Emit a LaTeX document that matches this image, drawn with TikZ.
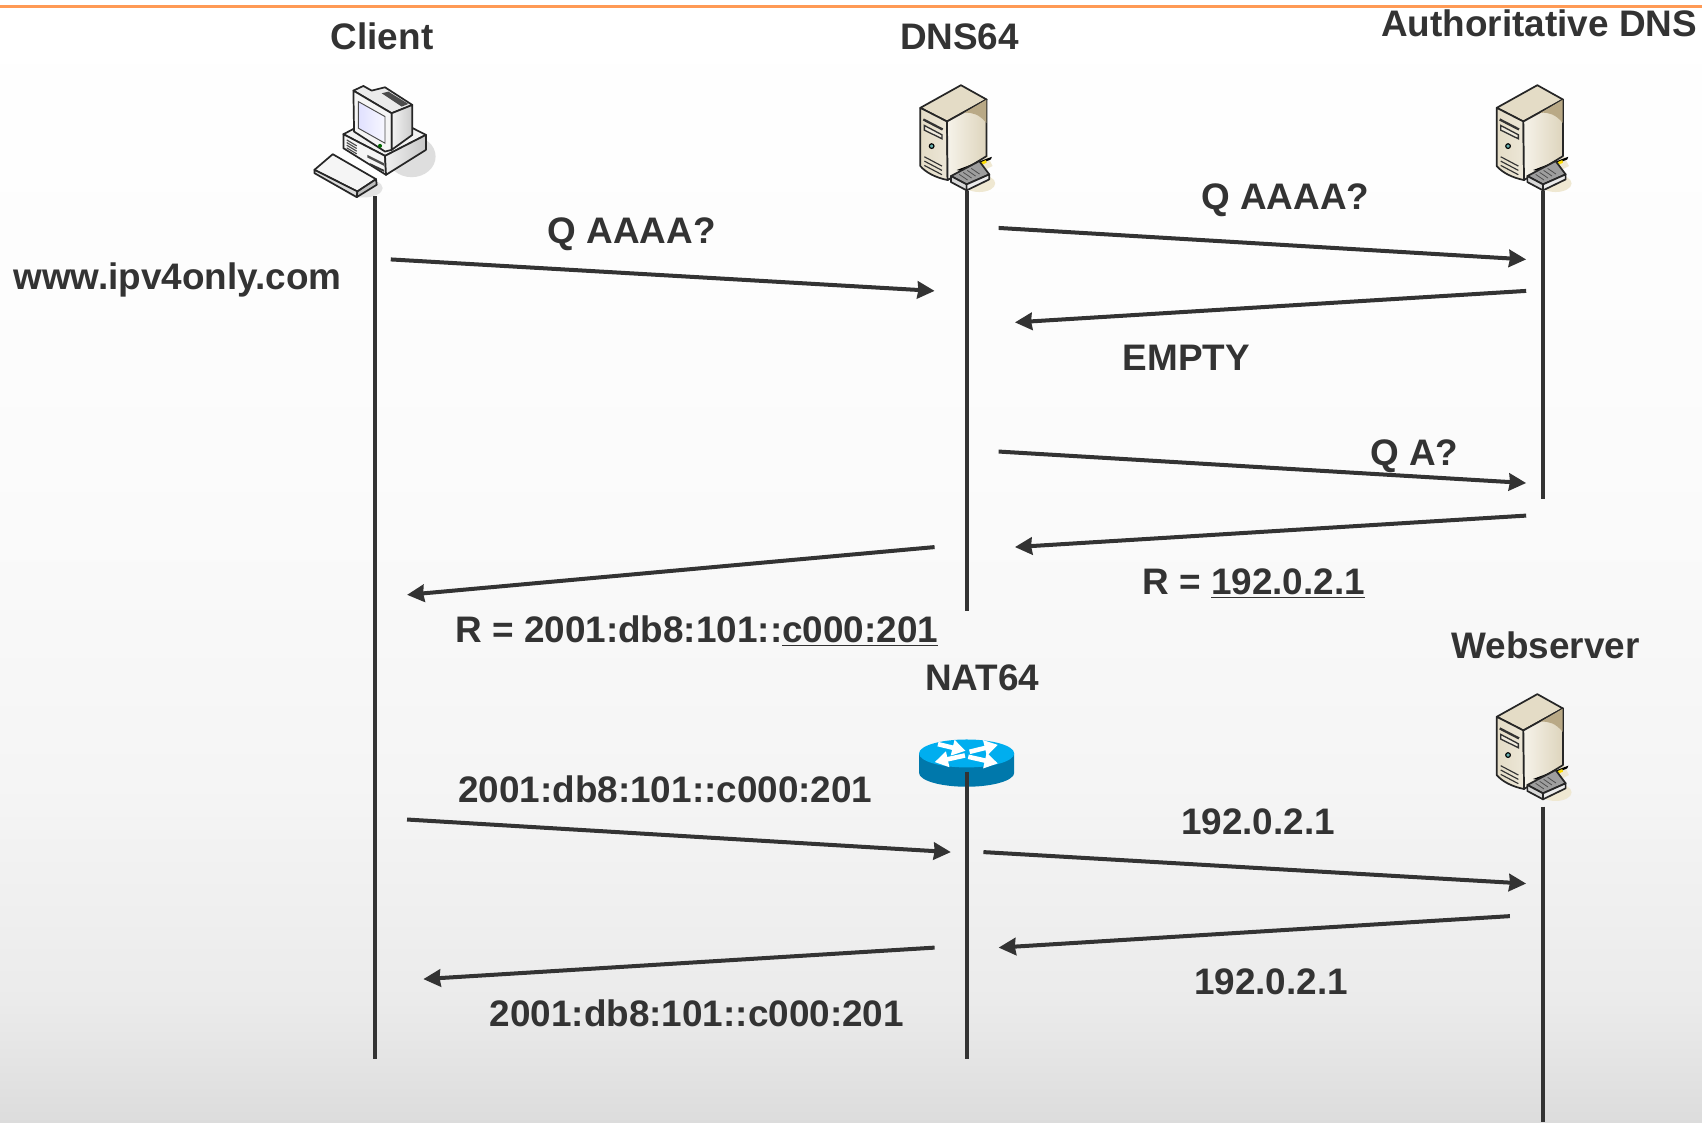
\documentclass[tikz,border=0pt]{standalone}
\usepackage{fontspec}
\setmainfont{Liberation Sans}
\usetikzlibrary{arrows.meta}
\definecolor{inkgrey}{HTML}{333333}
\definecolor{rulecolor}{HTML}{FF9A55}
\definecolor{beigeface}{HTML}{E4DCC6}
\definecolor{beigedark}{HTML}{B9A986}
\definecolor{beigelight}{HTML}{F6F3EA}
\definecolor{beigeshadow}{HTML}{EFE8D2}
\definecolor{routertop}{HTML}{00AEEF}
\definecolor{routerside}{HTML}{0078AB}
\tikzstyle{line} = [draw=inkgrey, line width=2.1pt, -{Stealth[length=9pt,width=9pt,inset=0.5pt]}]
\tikzstyle{lifeline} = [draw=inkgrey, line width=2.1pt]
\tikzstyle{caption} = [text=inkgrey, anchor=base, inner sep=0pt, font=\fontsize{19.35}{23}\selectfont\bfseries]
\tikzstyle{icon} = [draw=black!85, line width=0.9pt, line join=round]
\tikzset{
  server/.pic={
    \begin{scope}[x=0.00614cm,y=-0.00614cm,shift={(-262,-395)}]
      \fill [beigeshadow] (300,372) ellipse (48 and 26);
      \fill [beigeshadow] (318,275) -- (340,320) -- (300,340) -- cycle;
      \path [icon, fill=beigeface] (123,145) -- (245,77) -- (322,120) -- (203,186) -- cycle;
      \path [icon, left color=beigeface, right color=beigeface!70!white] (123,145) -- (203,186) -- (205,362) .. controls (170,355) and (140,340) .. (123,320) -- cycle;
      \path [icon, left color=beigelight, right color=beigeface!85!beigedark] (203,186) -- (322,120) -- (322,290) -- (205,362) -- cycle;
      \fill [beigedark] (321,121) -- (321,190) .. controls (300,165) and (280,158) .. (255,160) -- cycle;
      \draw [line width=1.2pt, black!80] (132,180) -- (190,210);
      \draw [line width=0.7pt, black!80, fill=beigeface!60!white] (135,198) -- (188,226) -- (188,238) -- (135,212) -- cycle;
      \draw [line width=0.6pt, fill=teal!60] (157,260) circle (7);
      \foreach \rowgap in {0,13,26}
        \draw [line width=0.6pt, black!80] (135,292+\rowgap) -- (188,320+\rowgap);
      \fill [black] (232,332) -- (338,292) -- (335,300) -- (250,335) -- cycle;
      \fill [yellow!80!orange] (238,338) -- (320,302) -- (322,310) -- (255,340) -- cycle;
      \path [icon, fill=black!38] (215,350) -- (300,305) -- (330,345) -- (262,375) -- cycle;
      \path [icon, fill=black!15] (215,350) -- (262,375) -- (262,393) -- (215,368) -- cycle;
      \path [icon, fill=black!8] (262,375) -- (330,345) -- (330,360) -- (262,393) -- cycle;
      \foreach \slot in {0,12,24,36}
        \draw [line width=0.4pt, black!70] (240+\slot,345-\slot*0.5) -- (265+\slot,362-\slot*0.5);
    \end{scope}
  },
  client/.pic={
    \begin{scope}[x=0.00614cm,y=-0.00614cm,shift={(-285,-590)}]
      \fill [black!13] (395,470) ellipse (72 and 62);
      \fill [black!11] (250,565) ellipse (58 and 28);
      \path [icon, fill=black!5] (190,403) -- (310,340) -- (438,405) -- (315,468) -- cycle;
      \path [icon, fill=black!4] (190,403) -- (315,468) -- (318,525) -- (190,445) -- cycle;
      \path [icon, left color=black!6, right color=black!22] (315,468) -- (438,405) -- (438,450) -- (318,525) -- cycle;
      \path [icon, fill=black!8] (220,272) -- (250,258) -- (275,272) -- (315,262) -- (397,315) -- (335,340) -- cycle;
      \path [icon, fill=black!4] (220,272) -- (335,340) -- (335,450) -- (315,455) -- (222,395) -- cycle;
      \path [icon, left color=black!5, right color=black!20] (335,340) -- (397,315) -- (397,405) -- (335,450) -- cycle;
      \path [draw=black!70, line width=0.5pt, left color=blue!12!white, right color=blue!3!white] (235,305) -- (315,350) -- (315,430) -- (235,385) -- cycle;
      \fill [black!70] (305,280) -- (325,275) -- (385,312) -- (365,320) -- cycle;
      \fill [green!40!black] (300,438) circle (6);
      \foreach \rowgap in {0,8,16,24}
        \draw [line width=0.6pt, black!70] (200,420+\rowgap) -- (230,438+\rowgap);
      \fill [black!70] (262,465) -- (312,490) -- (312,498) -- (262,473) -- cycle;
      \fill [black!80] (270,490) -- (312,510) -- (312,516) -- (270,496) -- cycle;
      \path [icon, fill=black!4] (103,510) -- (158,463) -- (288,538) -- (232,575) -- cycle;
      \path [icon, fill=black!14] (103,510) -- (232,575) -- (230,592) -- (103,520) -- cycle;
      \path [icon, fill=black!25] (232,575) -- (288,538) -- (290,555) -- (230,592) -- cycle;
    \end{scope}
  },
  router/.pic={
    \begin{scope}[x=0.00614cm,y=-0.00614cm,shift={(-231,-155)}]
      \fill [routerside] (88,100) -- (88,158) arc [start angle=180, end angle=0, x radius=143, y radius=42] -- (374,100) -- cycle;
      \fill [routertop] (231,100) ellipse (143 and 42);
      \foreach \tailx/\taily/\headx/\heady in {145/72/228/92, 240/95/325/74, 226/106/135/126, 236/110/325/130}
        \draw [white, line width=2.4pt, -{Triangle[length=7pt,width=8pt]}] (\tailx,\taily) -- (\headx,\heady);
    \end{scope}
  }
}
\begin{document}
\begin{tikzpicture}[x=0.02cm, y=-0.02cm]
    % Page
    \useasboundingbox (0,0) rectangle (1568,1034);
    \foreach \bandtop/\bandend/\shadetop/\shadeend in {0/300/100/99, 300/500/99/98, 500/725/98/96, 725/830/96/94, 830/921/94/92.2, 921/976/92.2/89.5, 976/1034/89.5/86.3}
      \fill [top color=white!\shadetop!black, bottom color=white!\shadeend!black] (0,\bandtop) rectangle (1568,\bandend+0.5);
    \coordinate (ruleLeft) at (0,6);
    \coordinate (ruleRight) at (1568,6);
    \draw [rulecolor, line width=1.1pt] (ruleLeft) -- (ruleRight);
    % Place nodes
    \coordinate (clientTop) at (345.5,181);
    \coordinate (clientEnd) at (345.5,976);
    \coordinate (dnsTop) at (890.5,176);
    \coordinate (dnsEnd) at (890.5,563);
    \coordinate (authTop) at (1421.5,176);
    \coordinate (authEnd) at (1421.5,460);
    \coordinate (natTop) at (890.5,711);
    \coordinate (natEnd) at (890.5,976);
    \coordinate (webIcon) at (1421.5,737);
    \coordinate (webTop) at (1421.5,743);
    \coordinate (webEnd) at (1421.5,1034);
    \pic at (clientTop) {client};
    \pic at (dnsTop) {server};
    \pic at (authTop) {server};
    \pic at (natTop) {router};
    \pic at (webIcon) {server};
    \node [caption] (clientName) at (352,46) {Client};
    \node [caption] (dnsName) at (884,46) {DNS64};
    \node [caption] (authName) at (1418,34) {Authoritative DNS};
    \node [caption] (natName) at (905,636) {NAT64};
    \node [caption] (webName) at (1424,607) {Webserver};
    \node [caption] (hostName) at (163.5,267) {www.ipv4only.com};
    \node [caption] (queryOne) at (582,224) {Q AAAA?};
    \node [caption] (queryTwo) at (1184,193) {Q AAAA?};
    \node [caption] (emptyReply) at (1093,341) {EMPTY};
    \node [caption] (queryThree) at (1303,429) {Q A?};
    \node [caption] (replyFour) at (1155,548) {R = \underline{192.0.2.1}};
    \node [caption] (replySix) at (642,592) {R = 2001:db8:101::\underline{c000:201}};
    \node [caption] (sendOut) at (613,739) {2001:db8:101::c000:201};
    \node [caption] (sendOn) at (1159,769) {192.0.2.1};
    \node [caption] (backIn) at (1171,916) {192.0.2.1};
    \node [caption] (backOut) at (642,946) {2001:db8:101::c000:201};
    % Arrow ends
    \coordinate (a1) at (360,239);   \coordinate (b1) at (861,268);
    \coordinate (a2) at (920,210);   \coordinate (b2) at (1406,239);
    \coordinate (a3) at (1406,268);  \coordinate (b3) at (935,297);
    \coordinate (a4) at (920,416);   \coordinate (b4) at (1406,445);
    \coordinate (a5) at (1406,475);  \coordinate (b5) at (935,504);
    \coordinate (a6) at (861,504);   \coordinate (b6) at (375,548);
    \coordinate (a7) at (375,755);   \coordinate (b7) at (876,785);
    \coordinate (a8) at (906,785);   \coordinate (b8) at (1406,814);
    \coordinate (a9) at (1391,844);  \coordinate (b9) at (920,873);
    \coordinate (a10) at (861,873);  \coordinate (b10) at (390,902);
    % Draw edges
    \path [lifeline] (clientTop) -- (clientEnd);
    \path [lifeline] (dnsTop) -- (dnsEnd);
    \path [lifeline] (authTop) -- (authEnd);
    \path [lifeline] (natTop) -- (natEnd);
    \path [lifeline] (webTop) -- (webEnd);
    \path [line] (a1) -- (b1);
    \path [line] (a2) -- (b2);
    \path [line] (a3) -- (b3);
    \path [line] (a4) -- (b4);
    \path [line] (a5) -- (b5);
    \path [line] (a6) -- (b6);
    \path [line] (a7) -- (b7);
    \path [line] (a8) -- (b8);
    \path [line] (a9) -- (b9);
    \path [line] (a10) -- (b10);
\end{tikzpicture}
\end{document}
